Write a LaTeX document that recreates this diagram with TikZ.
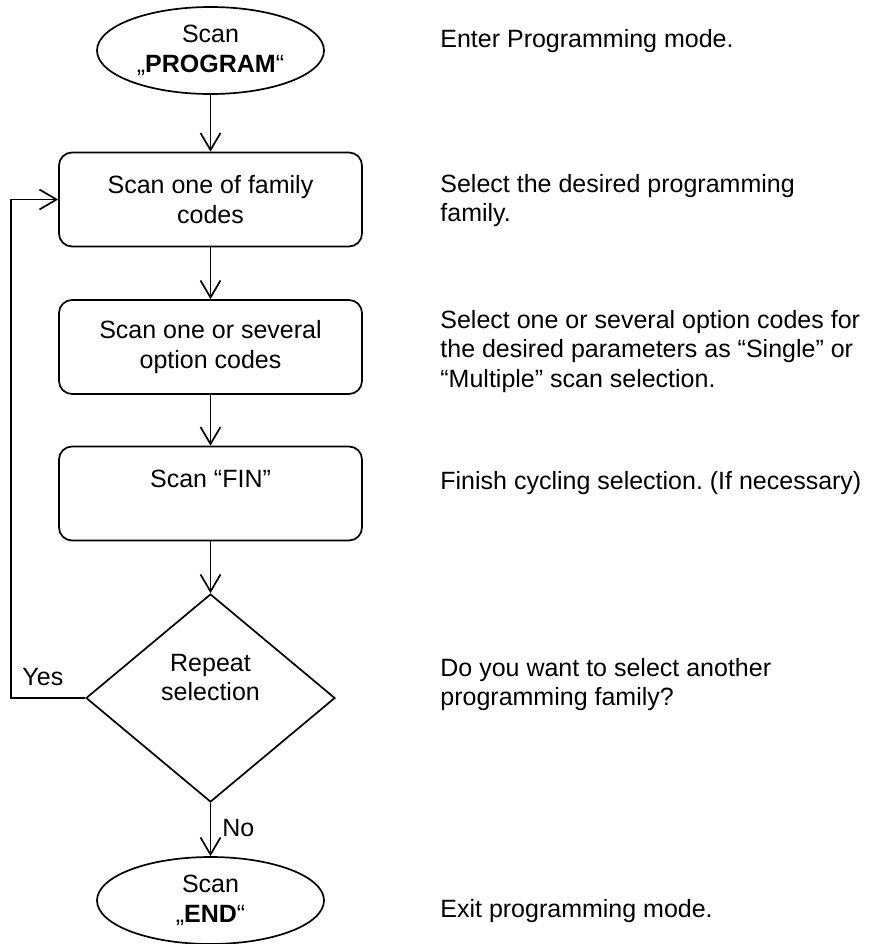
\documentclass[tikz,border=0pt]{standalone}
\usepackage{fontspec}
\setmainfont{Liberation Sans}
\usetikzlibrary{shapes.geometric,arrows.meta}
\frenchspacing
\begin{document}
\begin{tikzpicture}[x=0.5pt,y=-0.5pt,
  every node/.style={font=\fontsize{12.5pt}{14.75pt}\selectfont},
  lw/.style={line width=0.85pt},
  term/.style={ellipse, draw, lw, minimum width=113.5pt, minimum height=43.5pt, inner sep=0pt, align=center},
  proc/.style={rectangle, rounded corners=6.5pt, draw, lw, minimum width=151.5pt, minimum height=47pt, inner sep=0pt, align=center},
  decision/.style={diamond, draw, lw, minimum width=124.5pt, minimum height=104pt, inner sep=0pt},
  conn/.style={lw, -{Straight Barb[length=8.5pt,width=10pt]}},
  note/.style={anchor=base west, inner sep=0pt}
]
\useasboundingbox (0,0) rectangle (869,944);
\fill[white] (0,0) rectangle (869,944);

% flowchart
\node[term] (start) at (210.5,50.5) {Scan\\„\textbf{PROGRAM}“};
\node[proc] (fam) at (210.5,199.5) {Scan one of family\\codes};
\node[proc] (opt) at (210.5,347) {Scan one or several\\option codes};
\node[proc] (fin) at (210.5,493.5) {Scan “FIN”\\\mbox{}};
\node[decision] (rep) at (210.5,698) {};
\node[align=center, inner sep=0pt] (reptext) at (210.5,677.5) {Repeat\\selection};
\node[term] (end) at (210.5,900.5) {Scan\\„\textbf{END}“};
\coordinate (yl) at (11,698);

\draw[conn] (start) -- (fam);
\draw[conn] (fam) -- (opt);
\draw[conn] (opt) -- (fin);
\draw[conn] (fin) -- (rep);
\draw[conn] (rep) -- node[pos=0.47, anchor=west, inner sep=0pt, xshift=5.5pt] (no) {No} (end);
\draw[conn] (rep.west) -- node[pos=0.57, above, inner sep=5.5pt] (yes) {Yes} (yl) |- (fam.west);

% notes
\node[note] (n1) at (440,47) {Enter Programming mode.};
\node[note] (n2) at (440,192) {\parbox[t]{216pt}{\raggedright Select the desired programming\\family.}};
\node[note] (n3) at (440,328) {\parbox[t]{216pt}{\raggedright Select one or several option codes for\\the desired parameters as “Single” or\\“Multiple” scan selection.}};
\node[note] (n4) at (440,489) {Finish cycling selection. (If necessary)};
\node[note] (n5) at (440,676) {\parbox[t]{216pt}{\raggedright Do you want to select another\\programming family?}};
\node[note] (n6) at (440,917) {Exit programming mode.};
\end{tikzpicture}
\end{document}
